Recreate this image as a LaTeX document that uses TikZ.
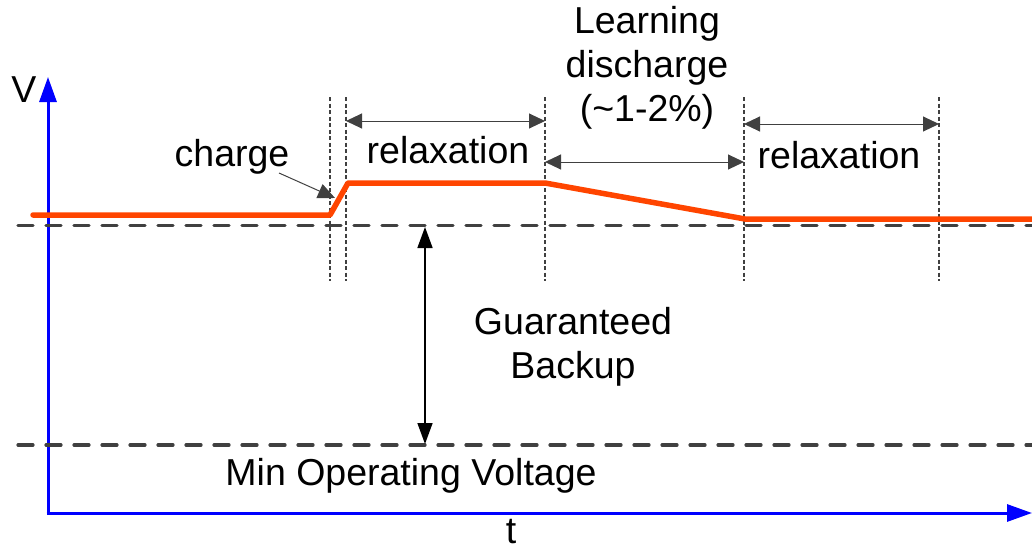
\documentclass[tikz,border=0pt]{standalone}
\usepackage{fontspec}
\setmainfont{Liberation Sans}
\usetikzlibrary{arrows.meta}
\definecolor{vorange}{HTML}{FF4500}
\definecolor{dgrey}{HTML}{404040}
\begin{document}
\begin{tikzpicture}[x=1pt,y=-1pt,
  lbl/.style={font=\fontsize{37.5}{44}\selectfont, inner sep=0pt, align=center},
  axis/.style={blue, line width=3pt, -{Triangle[length=25pt,width=17pt]}},
  level/.style={dgrey, line width=3.2pt, line cap=round, dash pattern=on 15pt off 13pt},
  marker/.style={dgrey, line width=1.4pt, dash pattern=on 4pt off 2.5pt},
  dimarrow/.style={dgrey, line width=1pt, {Triangle[length=16pt,width=15pt]}-{Triangle[length=16pt,width=15pt]}},
  curve/.style={vorange, line width=5.5pt, line cap=round, line join=round}]
\useasboundingbox (0,0) rectangle (1032,551);
% axes
\coordinate (o) at (48,513);
\coordinate (ytop) at (48,77);
\coordinate (xend) at (1032,513);
\draw[axis] (o) -- (ytop);
\draw[axis] ([xshift=-1.5pt]o) -- (xend);
\node[lbl] (vlab) at (24,90) {V};
\node[lbl, anchor=base] (tlab) at (511,543) {t};
% levels
\coordinate (l1a) at (18,225.5); \coordinate (l1b) at (1032,225.5);
\coordinate (l2a) at (18,445); \coordinate (l2b) at (1032,445);
\draw[level] (l1a) -- (l1b);
\draw[level] (l2a) -- (l2b);
% markers
\foreach \n/\xx in {m1/330,m2/346,m3/545,m4/744,m5/939}{
  \coordinate (\n t) at (\xx,97);
  \coordinate (\n b) at (\xx,281);
  \draw[marker] (\n t) -- (\n b);
}
% voltage curve
\coordinate (c0) at (33,215);
\coordinate (c1) at (330,215);
\coordinate (c2) at (348,183);
\coordinate (c3) at (545,183);
\coordinate (c4) at (745,219);
\coordinate (c5) at (1032,219);
\draw[curve] (c0) -- (c1) -- (c2) -- (c3) -- (c4) -- (c5);
% dimension arrows
\coordinate (d1a) at (346,121); \coordinate (d1b) at (545,121);
\coordinate (d2a) at (545,162); \coordinate (d2b) at (744,162);
\coordinate (d3a) at (744,124); \coordinate (d3b) at (939,124);
\draw[dimarrow] (d1a) -- (d1b);
\draw[dimarrow] (d2a) -- (d2b);
\draw[dimarrow] (d3a) -- (d3b);
% labels
\node[lbl, anchor=base] (relax1) at (448,163) {relaxation};
\node[lbl, anchor=base] (relax2) at (839,168) {relaxation};
\node[lbl] (learn) at (647,68) {Learning\\discharge\\(\textasciitilde1-2\%)};
\node[lbl] (charge) at (232,157) {charge};
\node[lbl] (backup) at (573,347) {Guaranteed\\Backup};
\node[lbl, anchor=base] (minv) at (411,485) {Min Operating Voltage};
% charge pointer
\coordinate (chs) at (279,173);
\coordinate (che) at (335,198);
\draw[dgrey, line width=1pt, -{Triangle[length=17pt,width=15pt]}] (chs) -- (che);
% guaranteed backup arrow
\coordinate (g1) at (425,227); \coordinate (g2) at (425,444);
\draw[black, line width=1.5pt, {Triangle[length=21pt,width=15pt]}-{Triangle[length=21pt,width=15pt]}] (g1) -- (g2);
\end{tikzpicture}
\end{document}
